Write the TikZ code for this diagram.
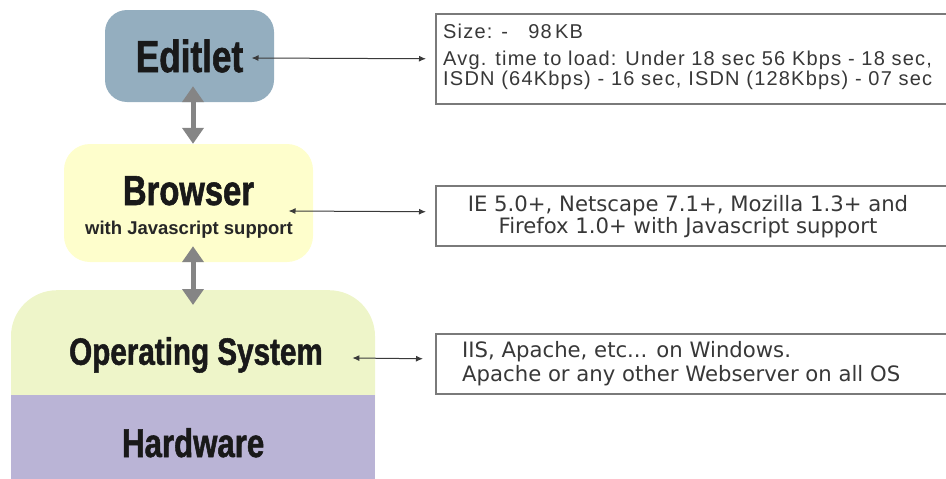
\documentclass[tikz,border=0pt]{standalone}
\usepackage{fontspec}
\setmainfont{Liberation Sans}
\newfontfamily\headfont[FakeStretch=0.78,FakeBold=1.3]{Liberation Sans}
\newfontfamily\arialfont[LetterSpace=6]{Liberation Sans}
\newfontfamily\verdfont{DejaVu Sans}
\usetikzlibrary{arrows.meta}
\definecolor{editletblue}{HTML}{94AEBF}
\definecolor{browseryellow}{HTML}{FEFECC}
\definecolor{osgreen}{HTML}{EEF5C9}
\definecolor{hwviolet}{HTML}{BAB4D6}
\definecolor{stackgray}{HTML}{858585}
\definecolor{linkgray}{HTML}{3A3A3A}
\definecolor{framegray}{HTML}{7A7A7A}
\definecolor{textgray}{HTML}{383838}
\begin{document}
\begin{tikzpicture}[x=1pt,y=-1pt,
	title/.style={font={\headfont\bfseries\fontsize{#1}{#1}\selectfont}, text=black!90},
	updown/.style={draw=stackgray, line width=5pt, {Triangle[length=16pt,width=21pt]}-{Triangle[length=16pt,width=21pt]}},
	link/.style={draw=linkgray, line width=1pt, {Latex[length=7pt,width=6pt]}-{Latex[length=7pt,width=6pt]}},
	infobox/.style={draw=framegray, line width=1.5pt, fill=white, minimum width=530pt, anchor=north west},
	infotext/.style={font=\arialfont\fontsize{20}{22}\selectfont, text=textgray, inner sep=0pt},
	verdtext/.style={font=\verdfont\fontsize{21.2}{23}\selectfont, text=textgray, inner sep=0pt}]
	\useasboundingbox (0,0) rectangle (946,479);

	% Layers of the stack
	\node[title=45, fill=editletblue, rounded corners=22pt, minimum width=169pt, minimum height=92pt] (editlet) at (189.5,56) {Editlet};
	\node[fill=browseryellow, rounded corners=26pt, minimum width=249pt, minimum height=118pt] (browser) at (188.5,203) {};
	\node[title=42, anchor=base] (browsertitle) at (188.5,205) {Browser};
	\node[anchor=base, font=\bfseries\fontsize{18.5}{20}\selectfont, text=black!85] (browsernote) at (189,234) {with Javascript support};
	\node[fill=osgreen, rounded corners=46pt, minimum width=364pt, minimum height=190pt, anchor=north] (os) at (193,290) {};
	\node[title=38] (ostitle) at (196,355) {Operating System};
	\node[title=40, fill=hwviolet, minimum width=364pt, minimum height=95pt, anchor=north west] (hardware) at (11,395) {Hardware};

	% Arrows between the layers
	\draw[updown] ([xshift=3.5pt,yshift=16pt]editlet.south) -- ([xshift=4.5pt]browser.north);
	\draw[updown] ([xshift=4.5pt,yshift=16pt]browser.south) -- ([yshift=-15pt]os.north);

	% Requirement boxes on the right
	\node[infobox, minimum height=90pt] (sizebox) at (435,13) {};
	\node[infotext, anchor=base west] (sizeline) at (443,38) {Size: -\ \ \ 98\,KB};
	\node[infotext, anchor=base west] (loadline) at (443,65) {Avg. time to load: Under 18 sec 56 Kbps - 18 sec,};
	\node[infotext, anchor=base west] (isdnline) at (443,85) {ISDN (64Kbps) - 16 sec, ISDN (128Kbps) - 07 sec};

	\node[infobox, minimum height=60pt] (browserbox) at (435,185) {};
	\node[verdtext, anchor=base] (ieline) at (688,211) {IE 5.0+, Netscape 7.1+, Mozilla 1.3+ and};
	\node[verdtext, anchor=base] (firefoxline) at (688,233) {Firefox 1.0+ with Javascript support};

	\node[infobox, minimum height=60pt] (serverbox) at (435,333) {};
	\node[verdtext, anchor=base west] (iisline) at (462,357) {IIS, Apache, etc... on Windows.};
	\node[verdtext, anchor=base west] (apacheline) at (462,381) {Apache or any other Webserver on all OS};

	% Links to the boxes
	\draw[link] ([xshift=62pt,yshift=-2pt]editlet.center) -- ([xshift=-9pt]sizebox.west);
	\draw[link] ([xshift=100pt,yshift=-8pt]browser.center) -- ([xshift=-9pt,yshift=4pt]browserbox.west);
	\draw[link] ([xshift=26pt,yshift=-3pt]ostitle.east) -- ([xshift=-12pt,yshift=5pt]serverbox.west);
\end{tikzpicture}
\end{document}
